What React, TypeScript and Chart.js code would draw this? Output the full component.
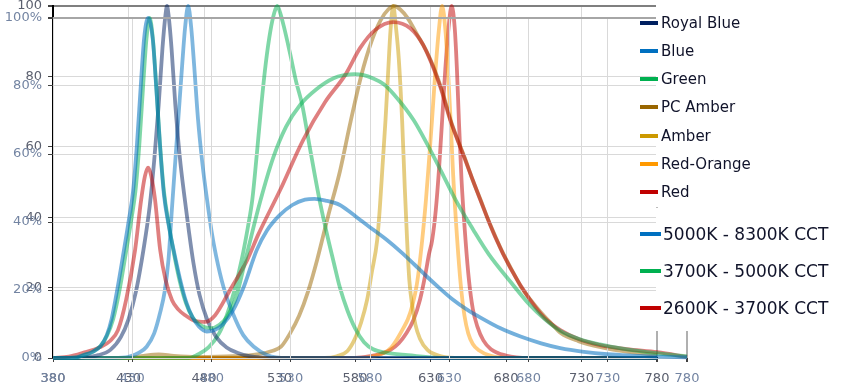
import React, { useEffect, useRef } from "react";
import { Chart, registerables } from "chart.js";
Chart.register(...registerables);

type Pt = [number, number];

// ---- Chart A (LED colours, scale 0..100) ----
const royalBlue: Pt[] = [[380,0],[400,0.2],[410,0.8],[418,2.3],[425,6],[430,11],[435,19],[440,31],[444,43],[447,56],[450,72],[452.5,88],[454.5,97.5],[455.5,100],[456.5,97.5],[458.5,88],[461,72],[464,57],[467,46],[470,36],[473,27],[477,18],[482,11],[488,6],[495,3],[502,1.5],[510,0.5],[525,0],[780,0]];
const blue: Pt[] = [[380,0],[420,0],[430,0.3],[437,1.5],[442,3.2],[447,7],[451,13],[454,19],[456.5,28],[458.7,42],[461,56],[463,68],[465.5,83],[467.5,94],[469.5,100],[471.5,94],[473.5,83],[476,68],[479,55],[482,45],[485,36],[488,29],[493,20],[499,12.8],[506,6.5],[513,3.2],[522,0.8],[535,0],[780,0]];
const green: Pt[] = [[380,0],[470,0],[476,1],[483,3],[490,7],[495,12],[500,19],[505,28],[509,37],[512,45],[515,58],[518,72],[521,84],[524,93],[526.5,98],[528.5,100],[530.5,98],[533,94],[537,86.5],[541,78.5],[545,72],[550,60],[556,46],[561,36],[566,27],[570,20],[575,13.5],[580,8.5],[586,4.5],[592,2.5],[600,1.5],[615,0.8],[640,0],[780,0]];
const pcAmber: Pt[] = [[380,0],[430,0],[440,0.6],[450,1],[460,0.6],[475,0.3],[500,0.5],[515,1],[525,2],[531,3.2],[537,7],[543,12],[549,19],[555,28],[562,40],[570,53],[577,67],[584,80],[591,90],[597,96],[602,99],[606,100],[610,99],[615,96.5],[621,92],[627,87.5],[632,82.7],[638,75.5],[643.3,67.6],[648,62],[653.2,56.3],[658,50.5],[663.2,44.9],[668,39.5],[673.1,34.4],[678,29.8],[683.1,25.6],[690,20.2],[696.3,16.5],[703,13],[710,9.8],[716.2,7.1],[728,4.8],[742.7,3.1],[760,1.8],[780,0.9]];
const amber: Pt[] = [[380,0],[560,0],[568,0.5],[575,2],[580,5.5],[584,10],[588,16.5],[591,24],[594.7,33.5],[596.5,43],[598.3,55],[600.2,67.6],[601.8,80],[603.5,93],[605.3,100],[607.1,94],[609,85],[611.2,67.6],[613,48],[614.5,33.5],[616,22],[618,14.6],[620,9.5],[623,5.5],[628,2.3],[637,0.5],[650,0],[780,0]];
const redOrange: Pt[] = [[380,0],[585,0],[592,0.5],[599,1.4],[604,3],[608,5.5],[612,8.5],[615,11],[618,15],[621,21],[624.5,33.5],[627,45],[629,56],[631,67.6],[633,80],[635.5,93],[637.7,100],[639.9,93],[641.8,80],[643.3,67.6],[645,52],[647.7,33.5],[650,21],[652.5,12],[655,7],[658,4],[662,2.2],[670,0.6],[685,0],[780,0]];
const red: Pt[] = [[380,0],[580,0],[590,0.5],[597,1.2],[603.5,2.3],[609,4.2],[614,7],[618.7,10.8],[623,16.5],[626.7,24],[629,29.5],[631.1,33.5],[633.5,42],[635.7,54],[637.7,67.6],[639.8,82],[642,94],[644,100],[646,94],[647.5,82],[648.8,67.6],[650.5,51],[653.2,33.5],[655.5,22],[658,14],[661,9],[665,5],[670,2.5],[680,0.7],[695,0],[780,0]];

// ---- Chart B (white LEDs, scale 0%..100%) ----
const cct5000: Pt[] = [[380,0],[395,0.2],[399,0.8],[405,1.8],[410,3.5],[414,6.8],[417,11.5],[420.5,20],[424.5,31],[428,41],[430.5,49],[433,63],[435.5,81],[437.5,94],[440,100],[443,93.5],[445,80.5],[447.5,62.5],[450,48],[453,39],[456,32],[460,23.5],[464,16.5],[468,12],[472,9.3],[477,7.8],[482,8.2],[487,9.8],[493.6,14],[500,20.5],[508.6,31.8],[515,37.5],[523,42],[531,45],[539,46.6],[545,46.8],[552,46.3],[561,45],[568,42.7],[575,40.2],[583,37.4],[590.7,34.7],[600,31],[608,27.5],[616,23.9],[624,20.5],[632,17.3],[641,14.3],[650,11.8],[662,8.8],[675,6.3],[688,4.3],[700,2.9],[715,1.8],[730,1.1],[745,0.7],[761,0.4],[780,0.2]];
const cct3700: Pt[] = [[380,0],[395,0.2],[399,0.8],[405,1.8],[410,3.5],[414,6.5],[418,11.5],[422,20],[426,31],[429.5,41],[432,49],[434.5,63],[437,81],[439,94],[441,100],[443,94],[445,81],[447.5,63],[450,49],[453,39.5],[456,31.5],[460,22.5],[464,16],[468,12],[472,10],[476,9],[480,8.8],[485,9.8],[490,12.3],[495,17],[502,30],[510.7,46],[519,59],[527,68],[536,74.5],[546,79],[557,82.3],[564,83.2],[570,83.5],[576,83.2],[582,82.2],[588.5,80.6],[597,76.5],[607.5,70],[616,63],[624.3,55.5],[634,46.5],[645.3,37.6],[655,30.5],[668.5,22.5],[681,15.5],[690,11.5],[700,8],[712,5.6],[725,4],[740,2.7],[761,1.4],[780,0.5]];
const cct2600: Pt[] = [[380,0],[390,0.4],[398.9,1.5],[409.7,3.2],[416,5],[421,8.2],[426.1,17],[431.8,31.8],[435.6,46.5],[438,53.5],[440,56],[442,53.5],[444.4,46.5],[447.6,31.8],[451,23],[455.1,17],[459,14.3],[463.3,12.6],[469.6,10.9],[476,10.6],[482.3,12.6],[491.7,20],[502.5,28.8],[509.4,36.2],[523.3,49.4],[537.8,64.1],[551.7,75.3],[564.3,83.2],[573.8,91.2],[583.3,96.5],[594.6,98.8],[605.4,97],[613.6,92],[624.3,79.8],[630.6,70],[640.1,58.2],[649.6,46.5],[659,35.6],[668.5,26.5],[681.1,17],[690,11.8],[700.1,8.2],[712,5.5],[725.3,3.8],[742,2.6],[761.3,1.7],[780,0.3]];

const seriesA = [
  { label: "Royal Blue", data: royalBlue, color: "#002060", line: "rgba(0,32,96,0.5)" },
  { label: "Blue", data: blue, color: "#0070C0", line: "rgba(0,112,192,0.5)" },
  { label: "Green", data: green, color: "#00B050", line: "rgba(0,176,80,0.5)" },
  { label: "PC Amber", data: pcAmber, color: "#996600", line: "rgba(153,102,0,0.5)" },
  { label: "Amber", data: amber, color: "#CC9900", line: "rgba(204,153,0,0.5)" },
  { label: "Red-Orange", data: redOrange, color: "#FF9900", line: "rgba(255,153,0,0.5)" },
  { label: "Red", data: red, color: "#C00000", line: "rgba(192,0,0,0.5)" },
];
const seriesB = [
  { label: "5000K - 8300K CCT", data: cct5000, color: "#0070C0", line: "rgba(0,112,192,0.55)" },
  { label: "3700K - 5000K CCT", data: cct3700, color: "#00B050", line: "rgba(0,176,80,0.5)" },
  { label: "2600K - 3700K CCT", data: cct2600, color: "#C00000", line: "rgba(192,0,0,0.5)" },
];

const FONT = "'DejaVu Sans', Verdana, sans-serif";

function buildConfig(series: typeof seriesA, opts: { top: number; right: number; suffix: string; labelColor: string; topGrid: string; border: boolean }) {
  return {
    type: "line" as const,
    data: {
      datasets: series.map((s) => ({
        label: s.label,
        data: s.data.map(([x, y]) => ({ x, y })),
        borderColor: s.line,
        backgroundColor: s.line,
        borderWidth: 3.8,
        pointRadius: 0,
        cubicInterpolationMode: "monotone" as const,
        fill: false,
        clip: 4,
      })),
    },
    options: {
      responsive: false,
      animation: false as const,
      devicePixelRatio: 1,
      layout: { padding: { left: 0, top: opts.top, right: opts.right, bottom: 0 } },
      plugins: { legend: { display: false }, tooltip: { enabled: false } },
      scales: {
        x: {
          type: "linear" as const,
          min: 380,
          max: 780,
          ticks: { stepSize: 50, color: opts.labelColor, font: { family: FONT, size: 13 }, padding: 9, maxRotation: 0, autoSkip: false },
          grid: {
            color: (c: any) => (c.tick && c.tick.value === 780 ? "#b0b0b0" : "#d9d9d9"),
            lineWidth: (c: any) => (c.tick && c.tick.value === 780 ? 2 : 1),
            tickColor: "#404040",
            tickLength: 4,
          },
          border: { display: opts.border, color: "#000", width: 1.5 },
          afterFit: (s: any) => { s.height = 30; s.paddingLeft = 0; s.paddingRight = 0; },
        },
        y: {
          type: "linear" as const,
          min: 0,
          max: 100,
          ticks: { stepSize: 20, color: opts.labelColor, font: { family: FONT, size: 13 }, padding: 6, callback: (v: any) => v + opts.suffix },
          grid: {
            color: (c: any) => (c.tick && c.tick.value === 100 ? opts.topGrid : "#d9d9d9"),
            lineWidth: (c: any) => (c.tick && c.tick.value === 100 ? 2 : 1),
            tickColor: "#404040",
            tickLength: 5,
          },
          border: { display: opts.border, color: "#000", width: 2 },
          afterFit: (s: any) => { s.width = 53; s.paddingTop = 0; s.paddingBottom = 0; },
        },
      },
    },
  };
}

export default function App() {
  const refA = useRef<HTMLCanvasElement>(null);
  const refB = useRef<HTMLCanvasElement>(null);
  useEffect(() => {
    const a = new Chart(refA.current!, buildConfig(seriesA, { top: 6, right: 841 - 657, suffix: "", labelColor: "#5a5f6e", topGrid: "#7f7f7f", border: true }) as any);
    const b = new Chart(refB.current!, buildConfig(seriesB, { top: 18, right: 841 - 687, suffix: "%", labelColor: "#7384a2", topGrid: "#a6a6a6", border: false }) as any);
    return () => { a.destroy(); b.destroy(); };
  }, []);

  return (
    <div style={{ position: "relative", width: 841, height: 388, background: "#fff", overflow: "hidden" }}>
      <style>{"body{margin:0}"}</style>
      <canvas ref={refA} width={841} height={388} style={{ position: "absolute", left: 0, top: 0 }} />
      <canvas ref={refB} width={841} height={388} style={{ position: "absolute", left: 0, top: 0 }} />
      <div style={{ position: "absolute", left: 656, top: 0, width: 185, height: 331, background: "#fff" }} />
      {seriesA.map((s, i) => (
        <div key={s.label} style={{ position: "absolute", left: 640, top: 22.7 + i * 28.2 - 10, height: 20, display: "flex", alignItems: "center" }}>
          <div style={{ width: 18, height: 4, background: s.color }} />
          <span style={{ marginLeft: 3, font: `15px ${FONT}`, color: "#10132a", whiteSpace: "nowrap" }}>{s.label}</span>
        </div>
      ))}
      <div style={{ position: "absolute", left: 656, top: 207, width: 2, height: 1, background: "#bbb" }} />
      {seriesB.map((s, i) => (
        <div key={s.label} style={{ position: "absolute", left: 640, top: 233.5 + i * 37.2 - 11, height: 22, display: "flex", alignItems: "center" }}>
          <div style={{ width: 21, height: 4, background: s.color }} />
          <span style={{ marginLeft: 2, font: `17px ${FONT}`, color: "#10132a", whiteSpace: "nowrap" }}>{s.label}</span>
        </div>
      ))}
    </div>
  );
}
